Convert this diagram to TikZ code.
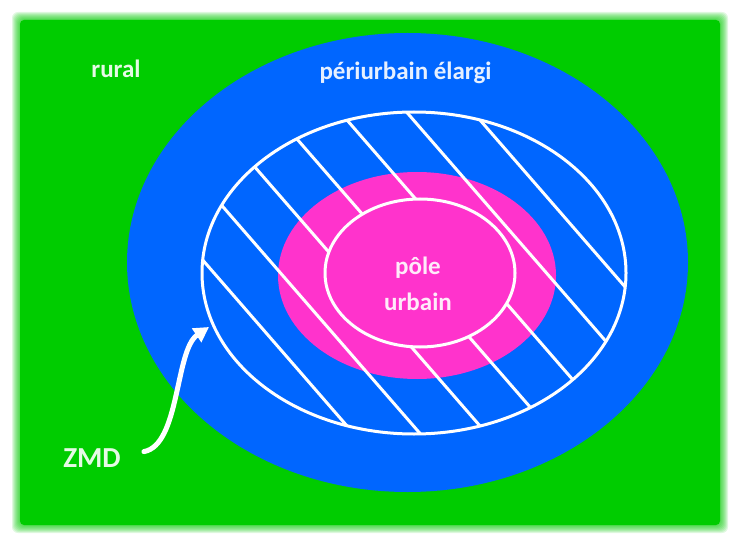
\documentclass[tikz,border=0pt]{standalone}
\usepackage{fontspec}
\setmainfont{Carlito}
\usetikzlibrary{arrows.meta}
\definecolor{ruralgreen}{RGB}{0,204,0}
\definecolor{periblue}{RGB}{0,102,255}
\definecolor{polepink}{RGB}{255,51,204}
\begin{document}
\begin{tikzpicture}[x=1pt,y=-1pt,
  zonelabel/.style={text=white, text opacity=0.9, font=\bfseries\fontsize{25}{36}\selectfont, inner sep=0pt},
  whiteline/.style={draw=white, line width=3pt},
  hatchline/.style={white, line width=3pt},
  pointer/.style={white, line width=5pt, line cap=round, -{Triangle[length=15pt, width=16pt]}}
]
\useasboundingbox (0,0) rectangle (730,537);
\fill[white] (0,0) rectangle (730,537);
% green background with a soft edge
\foreach \i in {1,...,8}
  \fill[ruralgreen, opacity=0.12, rounded corners=6pt] (20-\i,20-\i) rectangle (720+\i,525+\i);
\fill[ruralgreen, rounded corners=4pt] (20,20) rectangle (720,525);
% zones
\fill[periblue] (407.5,262.5) ellipse [x radius=280.5, y radius=229.5];
\fill[polepink] (417,275.5) ellipse [x radius=139, y radius=103.5];
% hatching of the ZMD ring
\begin{scope}
  \clip (414,273) ellipse [x radius=212, y radius=161];
  \foreach \k in {0,...,6}
    \draw[hatchline] ({214+66.5*\k-200},43) -- ({214+66.5*\k+200},503);
\end{scope}
\draw[whiteline] (414,273) ellipse [x radius=212, y radius=161];
\draw[whiteline, fill=polepink] (420,273) ellipse [x radius=95, y radius=74];
% labels
\node[zonelabel, anchor=base] (rural) at (116,78) {rural};
\node[zonelabel, anchor=base] (peri) at (405.5,80) {périurbain élargi};
\node[zonelabel, anchor=base, align=center] (pole) at (418,310) {pôle\\urbain};
\node[zonelabel, font=\bfseries\fontsize{29}{35}\selectfont, anchor=base] (zmd) at (92,467) {ZMD};
\coordinate (zmdtip) at (209,327);
\draw[pointer] ([xshift=23pt,yshift=6pt]zmd.east) .. controls (180,445) and (175,350) .. (zmdtip);
\end{tikzpicture}
\end{document}
